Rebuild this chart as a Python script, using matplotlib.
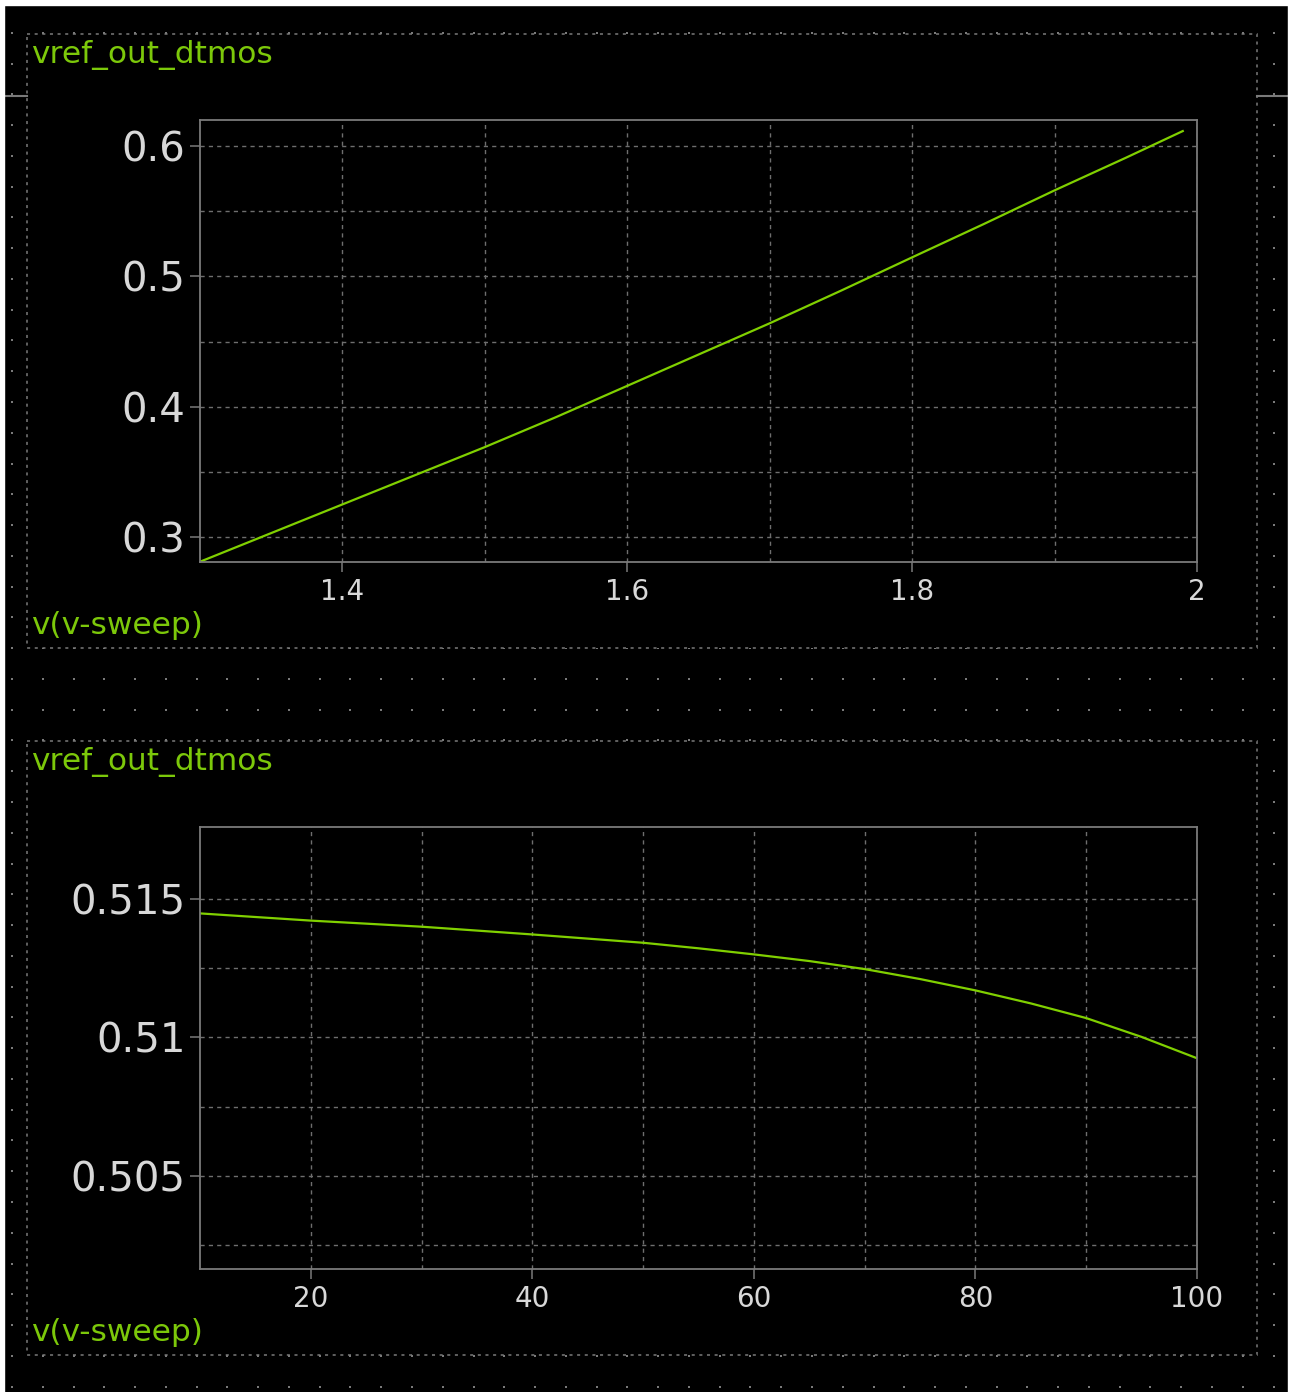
import matplotlib
matplotlib.use("Agg")
import matplotlib.pyplot as plt
from matplotlib.patches import Rectangle
import numpy as np

# ─── Data ───────────────────────────────────────────────────────────────────
sweep_dc = [1.30, 1.35, 1.40, 1.45, 1.50, 1.55, 1.60, 1.65, 1.70, 1.75, 1.80, 1.85, 1.90, 1.95, 1.99]
vref_dc = [0.281, 0.303, 0.325, 0.347, 0.369, 0.392, 0.416, 0.440, 0.464, 0.489, 0.5146, 0.540, 0.566, 0.591, 0.6115]

sweep_temp = [10, 20, 30, 40, 50, 55, 60, 65, 70, 75, 80, 85, 90, 95, 100]
vref_temp = [0.51448, 0.51422, 0.51400, 0.51372, 0.51342, 0.51322, 0.51300, 0.51276,
             0.51247, 0.51211, 0.51170, 0.51123, 0.51070, 0.51002, 0.50925]

dc_xticks = [1.4, 1.6, 1.8, 2.0]
dc_xlabels = ["1.4", "1.6", "1.8", "2"]
dc_yticks = [0.3, 0.4, 0.5, 0.6]
dc_ylabels = ["0.3", "0.4", "0.5", "0.6"]
dc_xminor = [1.5, 1.7, 1.9]
dc_yminor = [0.35, 0.45, 0.55]

temp_xticks = [20, 40, 60, 80, 100]
temp_xlabels = ["20", "40", "60", "80", "100"]
temp_yticks = [0.505, 0.51, 0.515]
temp_ylabels = ["0.505", "0.51", "0.515"]
temp_xminor = [30, 50, 70, 90]
temp_yminor = [0.5025, 0.5075, 0.5125]

trace_name = "vref_out_dtmos"
sweep_name = "v(v-sweep)"

# ─── Style ───────────────────────────────────────────────────────────────────
GREEN = "#7cc80a"
TRACE = "#80d000"
LABEL = "#d8d8d8"
FRAME = "#7a7a7a"
GRID = "#6e6e6e"

W, H = 1290, 1392
plt.rcParams["font.family"] = ["DejaVu Sans"]

fig = plt.figure(figsize=(W / 100, H / 100), dpi=100)
fig.patch.set_facecolor("black")

# background layer in pixel coordinates
bg = fig.add_axes([0, 0, 1, 1])
bg.set_xlim(0, W)
bg.set_ylim(H, 0)
bg.axis("off")

# dot grid of the canvas
gx, gy = np.meshgrid(np.arange(12, W - 4, 30.77), np.arange(2, H, 30.77))
bg.scatter(gx.ravel(), gy.ravel(), s=1.5, marker="s", color="#7a7a7a", lw=0, zorder=1)

# white screenshot edges
bg.add_patch(Rectangle((0, 0), W, 5, color="white", zorder=4))
bg.add_patch(Rectangle((0, 0), 4, H, color="white", zorder=4))
bg.add_patch(Rectangle((W - 2, 0), 2, H, color="white", zorder=4))

# panels
for top, bottom in [(34, 648), (741, 1355)]:
    bg.add_patch(Rectangle((27, top), 1230, bottom - top, facecolor="black",
                           edgecolor=FRAME, lw=1.1, ls=(0, (2, 3)), zorder=2))
    bg.text(31, top + 29, trace_name, color=GREEN, fontsize=22.5, va="baseline", zorder=3)
    bg.text(31, bottom - 14, sweep_name, color=GREEN, fontsize=22.5, va="baseline", zorder=3)

bg.plot([4, 27], [96, 96], color=FRAME, lw=1.5, zorder=3)
bg.plot([1257, W], [96, 96], color=FRAME, lw=1.5, zorder=3)


def make_axes(top_px, bottom_px):
    ax = fig.add_axes([200 / W, 1 - bottom_px / H, 997 / W, (bottom_px - top_px) / H])
    ax.set_facecolor("none")
    for sp in ax.spines.values():
        sp.set_color(FRAME)
        sp.set_linewidth(1.3)
    ax.tick_params(which="major", direction="out", length=7.5, width=1.1, color=FRAME,
                   labelcolor=LABEL)
    ax.tick_params(axis="y", which="major", labelsize=29, pad=3)
    ax.tick_params(axis="x", which="major", labelsize=20, pad=4)
    ax.tick_params(which="minor", length=0)
    ax.grid(which="both", color=GRID, lw=1.0, ls=(0, (3, 3)))
    return ax


ax1 = make_axes(120, 562)
ax1.plot(sweep_dc, vref_dc, color=TRACE, lw=1.6)
ax1.set_xlim(1.3, 2.0)
ax1.set_ylim(0.2808, 0.62)
ax1.set_xticks(dc_xticks, dc_xlabels)
ax1.set_yticks(dc_yticks, dc_ylabels)
ax1.set_xticks(dc_xminor, minor=True)
ax1.set_yticks(dc_yminor, minor=True)

ax2 = make_axes(827, 1269)
ax2.plot(sweep_temp, vref_temp, color=TRACE, lw=1.6)
ax2.set_xlim(10, 100)
ax2.set_ylim(0.50164, 0.5176)
ax2.set_xticks(temp_xticks, temp_xlabels)
ax2.set_yticks(temp_yticks, temp_ylabels)
ax2.set_xticks(temp_xminor, minor=True)
ax2.set_yticks(temp_yminor, minor=True)

fig.savefig("out.png", dpi=100, facecolor=fig.get_facecolor())
